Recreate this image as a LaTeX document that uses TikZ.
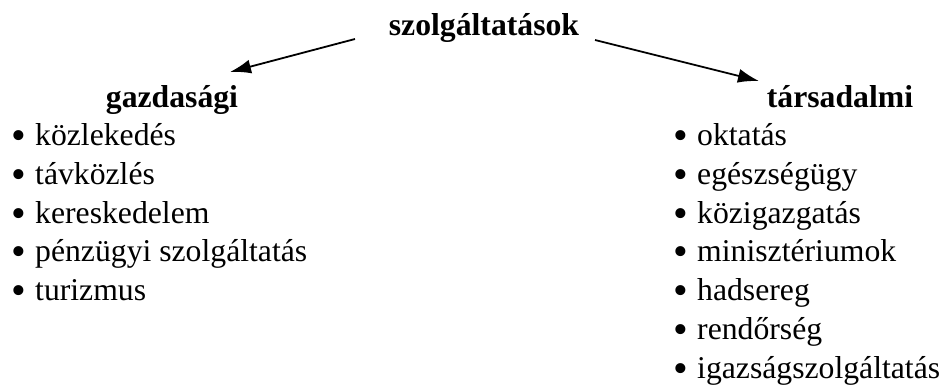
\documentclass[tikz,border=0pt]{standalone}
\usepackage{fontspec}
\setmainfont{Liberation Serif}
\usetikzlibrary{arrows.meta}
\tikzset{
  txt/.style={inner sep=0pt, anchor=base west, font=\fontsize{31.7}{38}\selectfont},
  head/.style={inner sep=0pt, anchor=base, font=\fontsize{31.7}{38}\selectfont\bfseries},
  bul/.style={inner sep=0pt, anchor=base west, yshift=-4pt, font=\fontsize{42}{44}\selectfont},
  conn/.style={line width=1.8pt, -{Latex[length=21pt,width=14pt]}}
}
\begin{document}
\begin{tikzpicture}[x=1pt,y=-1pt]
\useasboundingbox (0,0) rectangle (944,386);
\node[head] (top) at (484,35) {szolgáltatások};
\node[head] (gaz) at (172,107) {gazdasági};
\node[head] (tar) at (840,107) {társadalmi};
\coordinate (ls) at (355,39);
\coordinate (le) at (230,72);
\coordinate (rs) at (595,40);
\coordinate (re) at (759,81);
\draw[conn] (ls) -- (le);
\draw[conn] (rs) -- (re);
\foreach \t [count=\i] in {közlekedés,távközlés,kereskedelem,pénzügyi szolgáltatás,turizmus}{
  \node[bul] (lb\i) at (11,{145.5+(\i-1)*38.8}) {\smash{•}};
  \node[txt] (lt\i) at (35,{145.5+(\i-1)*38.8}) {\t};
}
\foreach \t [count=\i] in {oktatás,egészségügy,közigazgatás,minisztériumok,hadsereg,rendőrség,igazságszolgáltatás}{
  \node[bul] (rb\i) at (673,{145.5+(\i-1)*38.8}) {\smash{•}};
  \node[txt] (rt\i) at (697,{145.5+(\i-1)*38.8}) {\t};
}
\end{tikzpicture}
\end{document}
